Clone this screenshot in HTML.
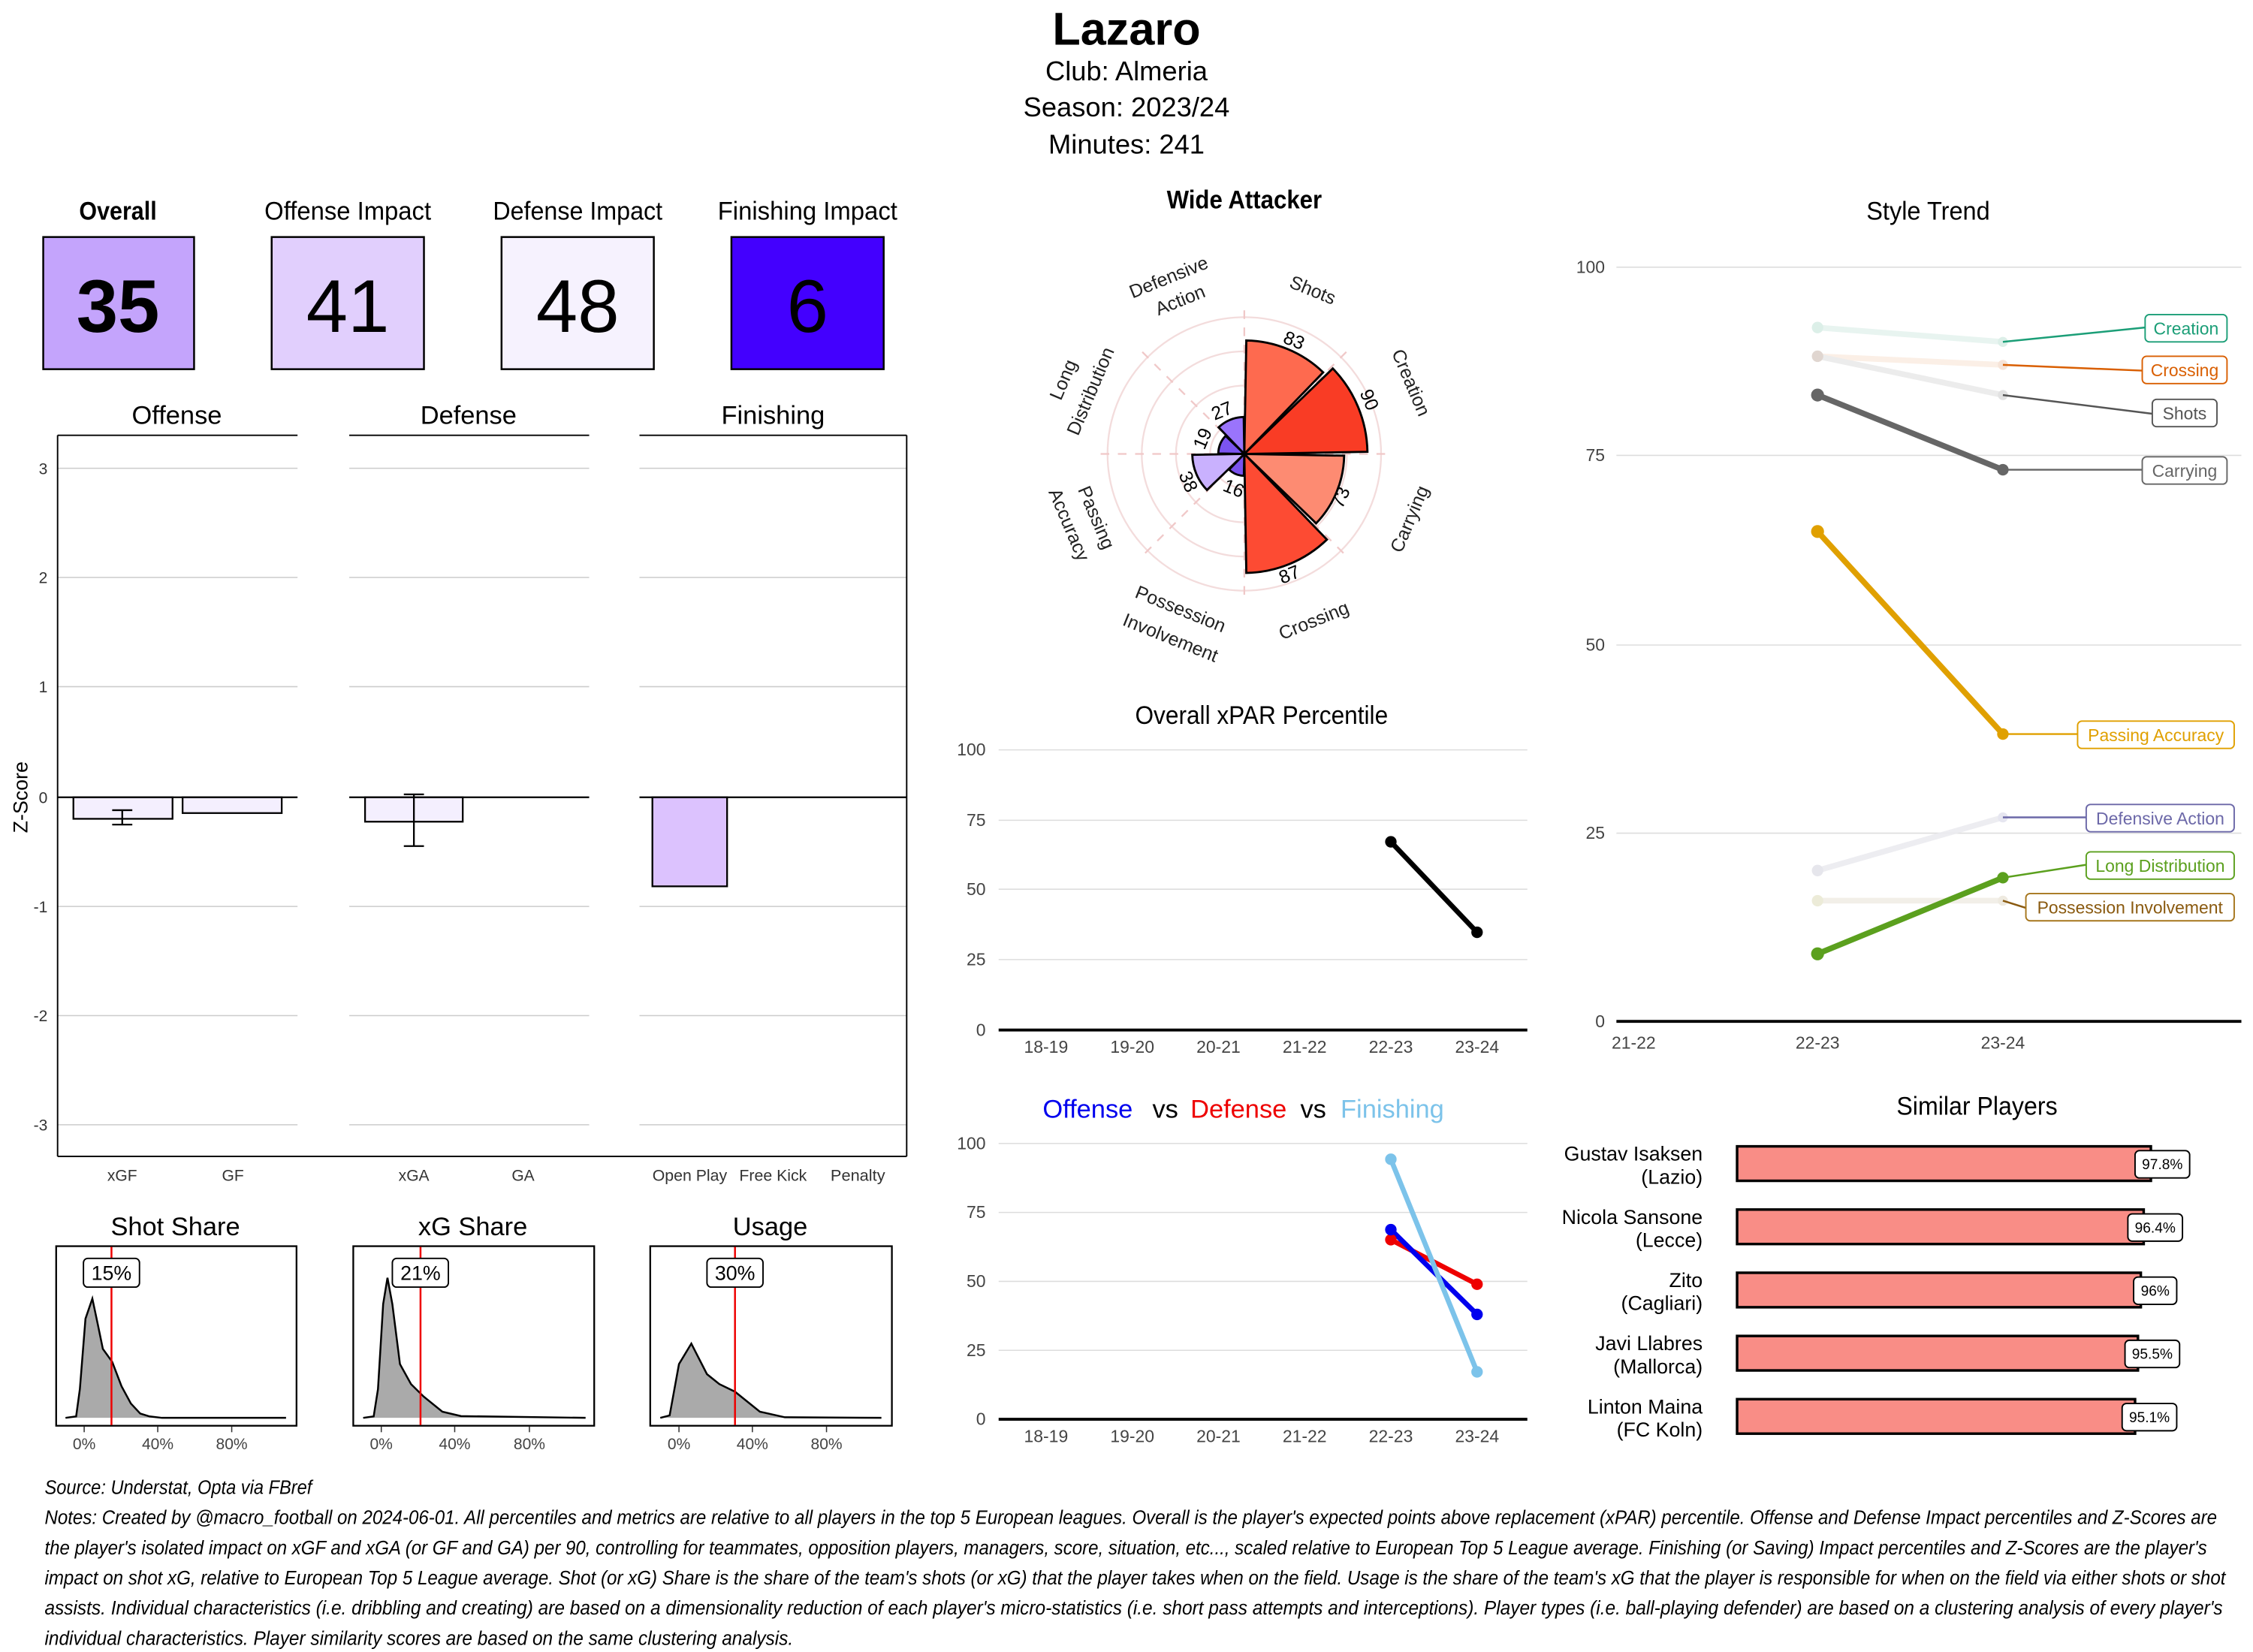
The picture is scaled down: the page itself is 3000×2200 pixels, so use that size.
<!DOCTYPE html>
<html><head><meta charset="utf-8"><style>
html,body{margin:0;padding:0;background:#fff;}
svg{display:block;}
text{font-family:"Liberation Sans Narrow","Liberation Sans",sans-serif;}
</style></head><body>
<svg width="3000" height="2200" viewBox="0 0 1568 1150" xmlns="http://www.w3.org/2000/svg">
<rect width="1568" height="1150" fill="#fff"/>
<!-- Header -->
<text x="784" y="31" font-size="32" font-weight="bold" text-anchor="middle">Lazaro</text>
<text x="784" y="56" font-size="19" text-anchor="middle">Club:  Almeria</text>
<text x="784" y="81" font-size="19" text-anchor="middle">Season:  2023/24</text>
<text x="784" y="107" font-size="19" text-anchor="middle">Minutes:  241</text>

<!-- Impact boxes -->
<g font-size="18" text-anchor="middle">
<text x="82" y="153" font-weight="bold" textLength="54" lengthAdjust="spacingAndGlyphs">Overall</text>
<text x="242" y="153" textLength="116" lengthAdjust="spacingAndGlyphs">Offense Impact</text>
<text x="402" y="153" textLength="118" lengthAdjust="spacingAndGlyphs">Defense Impact</text>
<text x="562" y="153" textLength="125" lengthAdjust="spacingAndGlyphs">Finishing Impact</text>
</g>
<g stroke="#000" stroke-width="1.3">
<rect x="30" y="165" width="105" height="92" fill="#c4a4fc"/>
<rect x="189" y="165" width="106" height="92" fill="#e1cffd"/>
<rect x="349" y="165" width="106" height="92" fill="#f6f2fe"/>
<rect x="509" y="165" width="106" height="92" fill="#4300fe"/>
</g>
<g font-size="52" text-anchor="middle">
<text x="82" y="231" font-weight="bold">35</text>
<text x="242" y="231">41</text>
<text x="402" y="231">48</text>
<text x="562" y="231">6</text>
</g>

<!-- Z-score facets -->
<g font-size="18" text-anchor="middle">
<text x="123" y="295">Offense</text>
<text x="326" y="295">Defense</text>
<text x="538" y="295">Finishing</text>
</g>
<g stroke="#ccc" stroke-width="0.8">
<line x1="40" x2="207" y1="326" y2="326"/><line x1="40" x2="207" y1="402" y2="402"/><line x1="40" x2="207" y1="478" y2="478"/><line x1="40" x2="207" y1="631" y2="631"/><line x1="40" x2="207" y1="707" y2="707"/><line x1="40" x2="207" y1="783" y2="783"/>
<line x1="243" x2="410" y1="326" y2="326"/><line x1="243" x2="410" y1="402" y2="402"/><line x1="243" x2="410" y1="478" y2="478"/><line x1="243" x2="410" y1="631" y2="631"/><line x1="243" x2="410" y1="707" y2="707"/><line x1="243" x2="410" y1="783" y2="783"/>
<line x1="445" x2="631" y1="326" y2="326"/><line x1="445" x2="631" y1="402" y2="402"/><line x1="445" x2="631" y1="478" y2="478"/><line x1="445" x2="631" y1="631" y2="631"/><line x1="445" x2="631" y1="707" y2="707"/><line x1="445" x2="631" y1="783" y2="783"/>
</g>
<g stroke="#000" stroke-width="1">
<line x1="40" y1="303" x2="40" y2="805"/>
<line x1="40" y1="303" x2="207" y2="303"/><line x1="243" y1="303" x2="410" y2="303"/><line x1="445" y1="303" x2="631" y2="303"/>
<line x1="631" y1="303" x2="631" y2="805"/>
<line x1="40" y1="805" x2="631" y2="805"/>
</g>
<g stroke="#000" stroke-width="1.2">
<rect x="51" y="555" width="69" height="15" fill="#f4effe"/>
<rect x="127" y="555" width="69" height="11" fill="#f4effe"/>
<rect x="254" y="555" width="68" height="17" fill="#f4effe"/>
<rect x="454" y="555" width="52" height="62" fill="#dcc2fe"/>
<line x1="40" y1="555" x2="207" y2="555"/><line x1="243" y1="555" x2="410" y2="555"/><line x1="445" y1="555" x2="631" y2="555"/>
<line x1="85" y1="564" x2="85" y2="574"/><line x1="78" y1="564" x2="92" y2="564"/><line x1="78" y1="574" x2="92" y2="574"/>
<line x1="288" y1="553" x2="288" y2="589"/><line x1="281" y1="553" x2="295" y2="553"/><line x1="281" y1="589" x2="295" y2="589"/>
</g>
<g font-size="11" fill="#333" text-anchor="end">
<text x="33" y="330">3</text><text x="33" y="406">2</text><text x="33" y="482">1</text><text x="33" y="559">0</text><text x="33" y="635">-1</text><text x="33" y="711">-2</text><text x="33" y="787">-3</text>
</g>
<text x="19" y="555" font-size="14" text-anchor="middle" transform="rotate(-90 19 555)">Z-Score</text>
<g font-size="11" fill="#333" text-anchor="middle">
<text x="85" y="822">xGF</text><text x="162" y="822">GF</text>
<text x="288" y="822">xGA</text><text x="364" y="822">GA</text>
<text x="480" y="822" textLength="52" lengthAdjust="spacingAndGlyphs">Open Play</text><text x="538" y="822" textLength="47" lengthAdjust="spacingAndGlyphs">Free Kick</text><text x="597" y="822" textLength="38" lengthAdjust="spacingAndGlyphs">Penalty</text>
</g>

<!-- Density panels -->
<g font-size="18" text-anchor="middle">
<text x="122" y="860">Shot Share</text>
<text x="329" y="860">xG Share</text>
<text x="536" y="860">Usage</text>
</g>
<g fill="#aaa" stroke="#000" stroke-width="1.3">
<path d="M45.5,987 L52.9,986 L55.5,967 L59.4,918 L64.2,904 L68,922 L71.5,939 L78,948 L84.5,965 L91,977 L97.5,984 L104,986 L112.7,987 L199,987"/>
<path d="M252.7,987 L260,986 L263,967 L266.6,907.8 L269.6,889.5 L273,907.8 L278.3,949.6 L286,963.5 L294.8,972.2 L307.8,982.7 L320.8,985.8 L407.5,987"/>
<path d="M459.5,987 L466,985.3 L472.5,949.6 L481.1,935.3 L492,956.6 L500.6,963.5 L511.5,968.8 L528.8,982.7 L546.2,986.6 L613.4,987"/>
</g>
<g fill="none" stroke="#000" stroke-width="1.2">
<rect x="39" y="867.5" width="167.3" height="125"/>
<rect x="245.8" y="867.5" width="167.7" height="125"/>
<rect x="452.5" y="867.5" width="168.2" height="125"/>
</g>
<g stroke="#e00" stroke-width="1.3">
<line x1="77.5" y1="868" x2="77.5" y2="992"/>
<line x1="292.6" y1="868" x2="292.6" y2="992"/>
<line x1="511.5" y1="868" x2="511.5" y2="992"/>
</g>
<g fill="#fff" stroke="#000" stroke-width="1">
<rect x="58" y="876" width="39" height="20" rx="3"/>
<rect x="273" y="876" width="39" height="20" rx="3"/>
<rect x="492" y="876" width="39" height="20" rx="3"/>
</g>
<g font-size="14" text-anchor="middle">
<text x="77.5" y="891">15%</text><text x="292.6" y="891">21%</text><text x="511.5" y="891">30%</text>
</g>
<g stroke="#333" stroke-width="0.8">
<line x1="58.5" y1="993" x2="58.5" y2="997"/><line x1="109.7" y1="993" x2="109.7" y2="997"/><line x1="161.2" y1="993" x2="161.2" y2="997"/>
<line x1="265.3" y1="993" x2="265.3" y2="997"/><line x1="316.4" y1="993" x2="316.4" y2="997"/><line x1="368.4" y1="993" x2="368.4" y2="997"/>
<line x1="472.5" y1="993" x2="472.5" y2="997"/><line x1="523.6" y1="993" x2="523.6" y2="997"/><line x1="575.2" y1="993" x2="575.2" y2="997"/>
</g>
<g font-size="11" fill="#444" text-anchor="middle">
<text x="58.5" y="1009">0%</text><text x="109.7" y="1009">40%</text><text x="161.2" y="1009">80%</text>
<text x="265.3" y="1009">0%</text><text x="316.4" y="1009">40%</text><text x="368.4" y="1009">80%</text>
<text x="472.5" y="1009">0%</text><text x="523.6" y="1009">40%</text><text x="575.2" y="1009">80%</text>
</g>

<!-- Radar -->
<text x="866" y="145" font-size="18" font-weight="bold" text-anchor="middle" textLength="108" lengthAdjust="spacingAndGlyphs">Wide Attacker</text>
<g fill="none" stroke="#f3dcdc" stroke-width="1.2">
<circle cx="866" cy="316" r="23.8"/><circle cx="866" cy="316" r="47.6"/><circle cx="866" cy="316" r="71.4"/><circle cx="866" cy="316" r="95.2"/>
</g>
<g stroke="#f0c8c8" stroke-width="1.2" stroke-dasharray="6,6">
<line x1="866" y1="216" x2="866" y2="416"/><line x1="766" y1="316" x2="966" y2="316"/>
<line x1="795" y1="245" x2="937" y2="387"/><line x1="937" y1="245" x2="795" y2="387"/>
</g>
<g stroke="#000" stroke-width="1.5">
<path d="M866,316 L867.4,237 A79 79 0 0 1 920.9,259.2 Z" fill="#fe6a4f"/>
<path d="M866,316 L927.6,256.5 A85.7 85.7 0 0 1 951.7,314.5 Z" fill="#f93c25"/>
<path d="M866,316 L935.5,317.2 A69.5 69.5 0 0 1 916,364.3 Z" fill="#fd8b72"/>
<path d="M866,316 L923.5,375.6 A82.8 82.8 0 0 1 867.4,398.8 Z" fill="#fd4b33"/>
<path d="M866,316 L865.7,331.2 A15.2 15.2 0 0 1 855.4,326.9 Z" fill="#7a52ee"/>
<path d="M866,316 L840,341.1 A36.2 36.2 0 0 1 829.8,316.6 Z" fill="#c9b1fe"/>
<path d="M866,316 L847.9,315.7 A18.1 18.1 0 0 1 853,303.4 Z" fill="#7b54f0"/>
<path d="M866,316 L848.1,297.5 A25.7 25.7 0 0 1 865.6,290.3 Z" fill="#9a74fc"/>
</g>
<g font-size="13" text-anchor="middle">
<text x="899" y="241" transform="rotate(22 899 241)">83</text>
<text x="949" y="280" transform="rotate(67 949 280)">90</text>
<text x="937" y="348" transform="rotate(-67 937 348)">73</text>
<text x="899" y="404" transform="rotate(-22 899 404)">87</text>
<text x="857" y="344" transform="rotate(22 857 344)">16</text>
<text x="823" y="337" transform="rotate(67 823 337)">38</text>
<text x="841" y="307" transform="rotate(-67 841 307)">19</text>
<text x="852" y="290" transform="rotate(-22 852 290)">27</text>
</g>
<g font-family="Liberation Sans" font-size="13" text-anchor="middle" fill="#222">
<text x="912" y="206" transform="rotate(22 912 206)">Shots</text>
<text x="978" y="268" transform="rotate(67 978 268)">Creation</text>
<text x="985" y="363" transform="rotate(-67 985 363)">Carrying</text>
<text x="916" y="436" transform="rotate(-22 916 436)">Crossing</text>
<text x="820" y="428" transform="rotate(22 820 428)">Possession</text>
<text x="813" y="448" transform="rotate(22 813 448)">Involvement</text>
<text x="759" y="362" transform="rotate(67 759 362)">Passing</text>
<text x="740" y="367" transform="rotate(67 740 367)">Accuracy</text>
<text x="744" y="266" transform="rotate(-67 744 266)">Long</text>
<text x="763" y="274" transform="rotate(-67 763 274)">Distribution</text>
<text x="815" y="197" transform="rotate(-22 815 197)">Defensive</text>
<text x="823" y="213" transform="rotate(-22 823 213)">Action</text>
</g>

<!-- Overall xPAR -->
<text x="878" y="504" font-size="18" text-anchor="middle" textLength="176" lengthAdjust="spacingAndGlyphs">Overall xPAR Percentile</text>
<g stroke="#ddd" stroke-width="0.8">
<line x1="695" x2="1063" y1="522" y2="522"/><line x1="695" x2="1063" y1="571" y2="571"/><line x1="695" x2="1063" y1="619" y2="619"/><line x1="695" x2="1063" y1="668" y2="668"/>
</g>
<line x1="695" x2="1063" y1="717" y2="717" stroke="#000" stroke-width="2"/>
<g font-size="12" fill="#444" text-anchor="end">
<text x="686" y="526">100</text><text x="686" y="575">75</text><text x="686" y="623">50</text><text x="686" y="672">25</text><text x="686" y="721">0</text>
</g>
<g font-size="12" fill="#444" text-anchor="middle">
<text x="728" y="733">18-19</text><text x="788" y="733">19-20</text><text x="848" y="733">20-21</text><text x="908" y="733">21-22</text><text x="968" y="733">22-23</text><text x="1028" y="733">23-24</text>
</g>
<line x1="968" y1="586" x2="1028" y2="649" stroke="#000" stroke-width="3.5"/>
<circle cx="968" cy="586" r="4"/><circle cx="1028" cy="649" r="4"/>

<!-- Offense vs Defense vs Finishing -->
<text y="778" font-size="18" text-anchor="middle"><tspan x="757" fill="#0000ee">Offense</tspan><tspan x="811">vs</tspan><tspan x="862" fill="#ee0000">Defense</tspan><tspan x="914">vs</tspan><tspan x="969" fill="#7cc3ea">Finishing</tspan></text>
<g stroke="#ddd" stroke-width="0.8">
<line x1="695" x2="1063" y1="796" y2="796"/><line x1="695" x2="1063" y1="844" y2="844"/><line x1="695" x2="1063" y1="892" y2="892"/><line x1="695" x2="1063" y1="940" y2="940"/>
</g>
<line x1="695" x2="1063" y1="988" y2="988" stroke="#000" stroke-width="2"/>
<g font-size="12" fill="#444" text-anchor="end">
<text x="686" y="800">100</text><text x="686" y="848">75</text><text x="686" y="896">50</text><text x="686" y="944">25</text><text x="686" y="992">0</text>
</g>
<g font-size="12" fill="#444" text-anchor="middle">
<text x="728" y="1004">18-19</text><text x="788" y="1004">19-20</text><text x="848" y="1004">20-21</text><text x="908" y="1004">21-22</text><text x="968" y="1004">22-23</text><text x="1028" y="1004">23-24</text>
</g>
<g stroke-width="3.5">
<line x1="968" y1="863" x2="1028" y2="894" stroke="#ee0000"/>
<line x1="968" y1="856" x2="1028" y2="915" stroke="#0000ee"/>
<line x1="968" y1="807" x2="1028" y2="955" stroke="#7cc3ea"/>
</g>
<circle cx="968" cy="863" r="4" fill="#ee0000"/><circle cx="1028" cy="894" r="4" fill="#ee0000"/>
<circle cx="968" cy="856" r="4" fill="#0000ee"/><circle cx="1028" cy="915" r="4" fill="#0000ee"/>
<circle cx="968" cy="807" r="4" fill="#7cc3ea"/><circle cx="1028" cy="955" r="4" fill="#7cc3ea"/>

<!-- Style Trend -->
<text x="1342" y="153" font-size="18" text-anchor="middle" textLength="86" lengthAdjust="spacingAndGlyphs">Style Trend</text>
<g stroke="#ddd" stroke-width="0.8">
<line x1="1125" x2="1560" y1="186" y2="186"/><line x1="1125" x2="1560" y1="317" y2="317"/><line x1="1125" x2="1560" y1="449" y2="449"/><line x1="1125" x2="1560" y1="580" y2="580"/>
</g>
<line x1="1125" x2="1560" y1="711" y2="711" stroke="#000" stroke-width="2"/>
<g font-size="12" fill="#444" text-anchor="end">
<text x="1117" y="190">100</text><text x="1117" y="321">75</text><text x="1117" y="453">50</text><text x="1117" y="584">25</text><text x="1117" y="715">0</text>
</g>
<g font-size="12" fill="#444" text-anchor="middle">
<text x="1137" y="730">21-22</text><text x="1265" y="730">22-23</text><text x="1394" y="730">23-24</text>
</g>
<g stroke-width="4" opacity="0.9">
<line x1="1265" y1="228" x2="1394" y2="238" stroke="#e6f3ef"/>
<line x1="1265" y1="248" x2="1394" y2="254" stroke="#fbeee4"/>
<line x1="1265" y1="248" x2="1394" y2="275" stroke="#ebebeb"/>
<line x1="1265" y1="606" x2="1394" y2="569" stroke="#ececf0"/>
<line x1="1265" y1="627" x2="1394" y2="627" stroke="#f1eee6"/>
</g>
<circle cx="1265" cy="228" r="4" fill="#dcefe8"/><circle cx="1394" cy="238" r="3.5" fill="#dcefe8"/>
<circle cx="1265" cy="248" r="4" fill="#e0d6d0"/><circle cx="1394" cy="254" r="3.5" fill="#f6e4d8"/>
<circle cx="1394" cy="275" r="3.5" fill="#e2e2e2"/>
<circle cx="1265" cy="606" r="4" fill="#e6e6ec"/><circle cx="1394" cy="569" r="3.5" fill="#e6e6f0"/>
<circle cx="1265" cy="627" r="4" fill="#ecebd8"/><circle cx="1394" cy="627" r="3.5" fill="#eeeae0"/>
<line x1="1265" y1="275" x2="1394" y2="327" stroke="#666" stroke-width="4"/>
<circle cx="1265" cy="275" r="4.5" fill="#666"/><circle cx="1394" cy="327" r="4" fill="#666"/>
<line x1="1265" y1="370" x2="1394" y2="511" stroke="#e0a000" stroke-width="4"/>
<circle cx="1265" cy="370" r="4.5" fill="#e0a000"/><circle cx="1394" cy="511" r="4" fill="#e0a000"/>
<line x1="1265" y1="664" x2="1394" y2="611" stroke="#5ba01e" stroke-width="4"/>
<circle cx="1265" cy="664" r="4.5" fill="#5ba01e"/><circle cx="1394" cy="611" r="4" fill="#5ba01e"/>
<g stroke-width="1.3">
<line x1="1394" y1="238" x2="1493" y2="228" stroke="#1b9e77"/>
<line x1="1394" y1="254" x2="1491" y2="258" stroke="#d95f02"/>
<line x1="1394" y1="275" x2="1498" y2="288" stroke="#555"/>
<line x1="1394" y1="327" x2="1491" y2="327" stroke="#666"/>
<line x1="1394" y1="511" x2="1446" y2="511" stroke="#e0a000"/>
<line x1="1394" y1="569" x2="1452" y2="569" stroke="#6c68a8"/>
<line x1="1394" y1="611" x2="1452" y2="602" stroke="#5ba01e"/>
<line x1="1394" y1="627" x2="1410" y2="632" stroke="#8a5a10"/>
</g>
<g fill="#fff" stroke-width="1">
<rect x="1493" y="219" width="57" height="19" rx="3" stroke="#1b9e77"/>
<rect x="1491" y="248" width="59" height="19" rx="3" stroke="#d95f02"/>
<rect x="1498" y="278" width="45" height="19" rx="3" stroke="#555"/>
<rect x="1491" y="318" width="59" height="19" rx="3" stroke="#666"/>
<rect x="1446" y="502" width="109" height="19" rx="3" stroke="#e0a000"/>
<rect x="1452" y="560" width="103" height="19" rx="3" stroke="#6c68a8"/>
<rect x="1452" y="593" width="103" height="19" rx="3" stroke="#5ba01e"/>
<rect x="1410" y="622" width="145" height="19" rx="3" stroke="#a6761d"/>
</g>
<g font-family="Liberation Sans" font-size="12" text-anchor="middle">
<text x="1521.5" y="233" fill="#1b9e77">Creation</text>
<text x="1520.5" y="262" fill="#d95f02">Crossing</text>
<text x="1520.5" y="292" fill="#555">Shots</text>
<text x="1520.5" y="332" fill="#666">Carrying</text>
<text x="1500.5" y="516" fill="#e0a000">Passing Accuracy</text>
<text x="1503.5" y="574" fill="#6c68a8">Defensive Action</text>
<text x="1503.5" y="607" fill="#5ba01e">Long Distribution</text>
<text x="1482.5" y="636" fill="#8a5a10">Possession Involvement</text>
</g>

<!-- Similar Players -->
<text x="1376" y="776" font-size="18" text-anchor="middle" textLength="112" lengthAdjust="spacingAndGlyphs">Similar Players</text>
<g fill="#f98d86" stroke="#000" stroke-width="1.8">
<rect x="1209" y="798" width="288" height="24"/>
<rect x="1209" y="842" width="283" height="24"/>
<rect x="1209" y="886" width="281" height="24"/>
<rect x="1209" y="930" width="279" height="24"/>
<rect x="1209" y="974" width="277" height="24"/>
</g>
<g fill="#fff" stroke="#000" stroke-width="1">
<rect x="1486" y="801" width="38" height="19" rx="3"/>
<rect x="1481" y="845" width="38" height="19" rx="3"/>
<rect x="1485" y="889" width="30" height="19" rx="3"/>
<rect x="1479" y="933" width="38" height="19" rx="3"/>
<rect x="1477" y="977" width="38" height="19" rx="3"/>
</g>
<g font-family="Liberation Sans" font-size="10" text-anchor="middle">
<text x="1505" y="814">97.8%</text><text x="1500" y="858">96.4%</text><text x="1500" y="902">96%</text><text x="1498" y="946">95.5%</text><text x="1496" y="990">95.1%</text>
</g>
<g font-size="14" text-anchor="end">
<text x="1185" y="808">Gustav Isaksen</text><text x="1185" y="824">(Lazio)</text>
<text x="1185" y="852">Nicola Sansone</text><text x="1185" y="868">(Lecce)</text>
<text x="1185" y="896">Zito</text><text x="1185" y="912">(Cagliari)</text>
<text x="1185" y="940">Javi Llabres</text><text x="1185" y="956">(Mallorca)</text>
<text x="1185" y="984">Linton Maina</text><text x="1185" y="1000">(FC Koln)</text>
</g>

<!-- Notes -->
<g font-size="13.6" font-style="italic">
<text x="31" y="1040" textLength="186" lengthAdjust="spacingAndGlyphs">Source: Understat, Opta via FBref</text>
<text x="31" y="1061" textLength="1512" lengthAdjust="spacingAndGlyphs">Notes: Created by @macro_football on 2024-06-01. All percentiles and metrics are relative to all players in the top 5 European leagues. Overall is the player's expected points above replacement (xPAR) percentile. Offense and Defense Impact percentiles and Z-Scores are</text>
<text x="31" y="1082" textLength="1505" lengthAdjust="spacingAndGlyphs">the player's isolated impact on xGF and xGA (or GF and GA) per 90, controlling for teammates, opposition players, managers, score, situation, etc..., scaled relative to European Top 5 League average. Finishing (or Saving) Impact percentiles and Z-Scores are the player's</text>
<text x="31" y="1103" textLength="1518" lengthAdjust="spacingAndGlyphs">impact on shot xG, relative to European Top 5 League average. Shot (or xG) Share is the share of the team's shots (or xG) that the player takes when on the field. Usage is the share of the team's xG that the player is responsible for when on the field via either shots or shot</text>
<text x="31" y="1124" textLength="1516" lengthAdjust="spacingAndGlyphs">assists. Individual characteristics (i.e. dribbling and creating) are based on a dimensionality reduction of each player's micro-statistics (i.e. short pass attempts and interceptions). Player types (i.e. ball-playing defender) are based on a clustering analysis of every player's</text>
<text x="31" y="1145" textLength="521" lengthAdjust="spacingAndGlyphs">individual characteristics. Player similarity scores are based on the same clustering analysis.</text>
</g>
</svg>
</body></html>
